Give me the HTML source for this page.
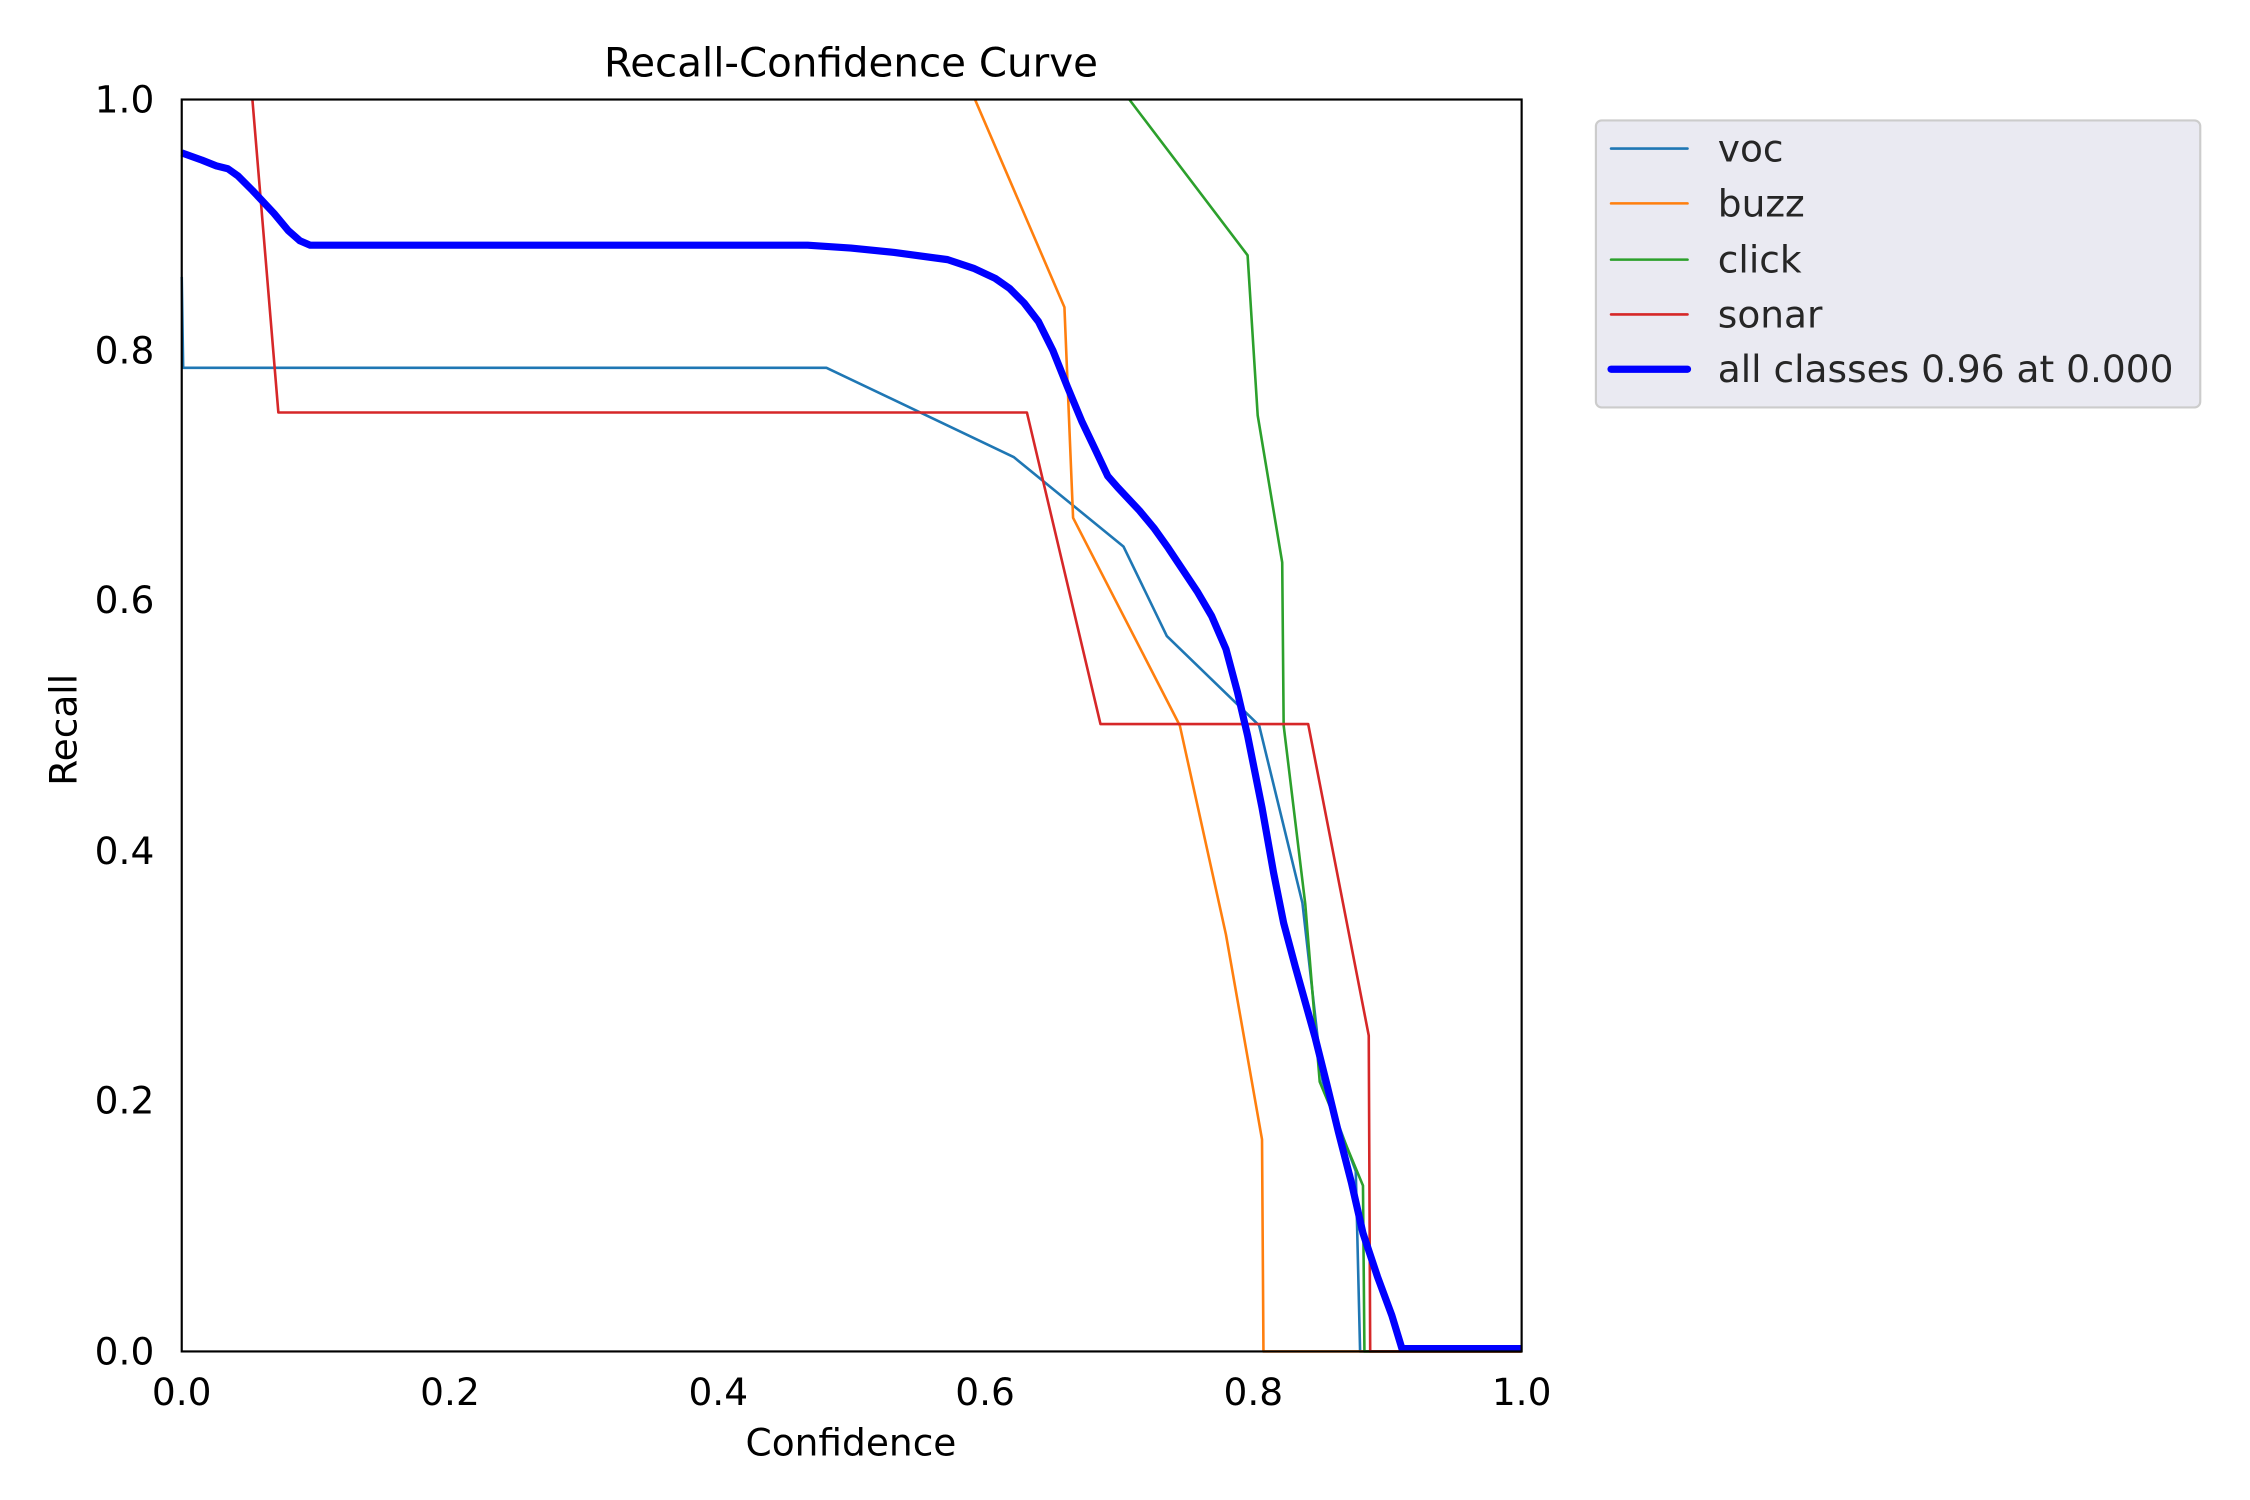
<!DOCTYPE html>
<html><head><meta charset="utf-8"><style>html,body{margin:0;padding:0;background:#fff}svg{display:block}</style></head>
<body>
<svg width="2250" height="1500" viewBox="0 0 1560 1040" preserveAspectRatio="none" xmlns="http://www.w3.org/2000/svg" font-family="DejaVu Sans, Liberation Sans, sans-serif">
<rect width="1560" height="1040" fill="#fff"/>
<text x="590" y="53" font-size="28" text-anchor="middle" fill="#000">Recall-Confidence Curve</text>
<g fill="none" stroke-linejoin="round">
<polyline stroke="#1f77b4" stroke-width="1.8" points="126,192 127,255 573,255 703,317 779,379 809,441 873,503 903,626 917,750 940,812 943,937 1055,937"/>
<polyline stroke="#ff7f0e" stroke-width="1.8" points="676,69 738,213 744,359 818,503 850,648 875,790 876,937 1055,937"/>
<polyline stroke="#2ca02c" stroke-width="1.8" points="783,69 865,177 872,288 889,390 890,503 905,627 915,750 945,822 946,937 1055,937"/>
<polyline stroke="#d62728" stroke-width="1.8" points="175,69 193,286 712,286 763,502 907,502 949,718 950,937 1055,937"/>
<polyline stroke="#0000ff" stroke-width="5" points="126,106 140,111 150,115 158,117 165,122 175,132 190,148 200,160 208,167 215,170 560,170 590,172 620,175 657,180 675,186 690,193 700,200 710,210 720,223 730,243 740,268 750,292 760,313 768,330 775,338 790,354 800,366 810,380 820,395 830,410 840,427 850,450 858,480 865,510 875,560 883,605 890,640 898,670 905,695 912,720 920,752 928,785 937,820 945,855 955,885 965,912 972,935 1055,935"/>
</g>
<rect x="126" y="69" width="929" height="868" fill="none" stroke="#000" stroke-width="1.5"/>
<g font-size="26" fill="#000">
<g text-anchor="end">
<text x="107" y="946">0.0</text><text x="107" y="772">0.2</text><text x="107" y="599">0.4</text><text x="107" y="425">0.6</text><text x="107" y="252">0.8</text><text x="107" y="78">1.0</text>
</g>
<g text-anchor="middle">
<text x="126" y="974">0.0</text><text x="312" y="974">0.2</text><text x="498" y="974">0.4</text><text x="683" y="974">0.6</text><text x="869" y="974">0.8</text><text x="1055" y="974">1.0</text>
<text x="590" y="1009">Confidence</text>
</g>
<text x="0" y="0" text-anchor="middle" transform="translate(53,506) rotate(-90)">Recall</text>
</g>
<rect x="1106.5" y="83.5" width="419" height="199" rx="4" fill="#eaeaf2" stroke="#cccccc" stroke-width="1.5"/>
<g stroke-linecap="round">
<line x1="1117" y1="103" x2="1170" y2="103" stroke="#1f77b4" stroke-width="1.8"/>
<line x1="1117" y1="141" x2="1170" y2="141" stroke="#ff7f0e" stroke-width="1.8"/>
<line x1="1117" y1="180" x2="1170" y2="180" stroke="#2ca02c" stroke-width="1.8"/>
<line x1="1117" y1="218" x2="1170" y2="218" stroke="#d62728" stroke-width="1.8"/>
<line x1="1117" y1="256" x2="1170" y2="256" stroke="#0000ff" stroke-width="5"/>
</g>
<g font-size="26" fill="#262626">
<text x="1191" y="112">voc</text><text x="1191" y="150">buzz</text><text x="1191" y="189">click</text><text x="1191" y="227">sonar</text><text x="1191" y="265">all classes 0.96 at 0.000</text>
</g>
</svg>
</body></html>
